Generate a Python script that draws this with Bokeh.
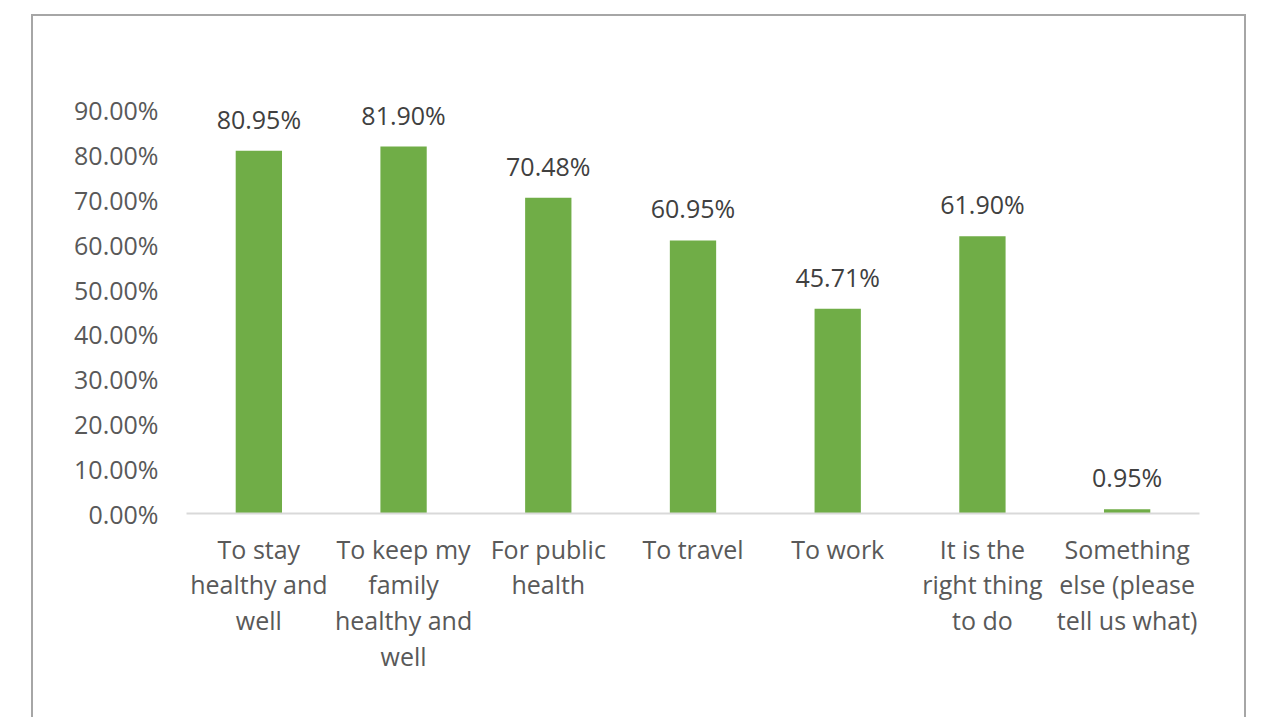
from bokeh.plotting import figure
from bokeh.models import ColumnDataSource, LabelSet, FixedTicker, NumeralTickFormatter, Range1d
from bokeh.core.properties import value
from bokeh.embed import file_html
from bokeh.resources import INLINE

categories = ["To stay\nhealthy and\nwell", "To keep my\nfamily\nhealthy and\nwell", "For public\nhealth",
              "To travel", "To work", "It is the\nright thing\nto do", "Something\nelse (please\ntell us what)"]
values = [0.8095, 0.8190, 0.7048, 0.6095, 0.4571, 0.6190, 0.0095]
labels = ["80.95%", "81.90%", "70.48%", "60.95%", "45.71%", "61.90%", "0.95%"]
y_ticks = [0.0, 0.1, 0.2, 0.3, 0.4, 0.5, 0.6, 0.7, 0.8, 0.9]

src = ColumnDataSource(dict(cat=categories, val=values, lab=labels))

FONT = "Open Sans"
FS = "25px"

p = figure(x_range=categories, y_range=Range1d(0, 1.0), width=1215, height=705,
           output_backend="svg", toolbar_location=None,
           min_border_left=153, min_border_right=49, min_border_top=49, min_border_bottom=208)
p.styles = {"border-left": "2px solid #a6a6a6", "border-right": "2px solid #a6a6a6",
            "border-top": "2px solid #a6a6a6", "margin-left": "31px", "margin-top": "14px"}

p.vbar(x="cat", top="val", width=0.32, source=src, color="#70AD47", line_color=None)

p.add_layout(LabelSet(x="cat", y="val", text="lab", source=src, y_offset=22,
                      text_align="center", text_baseline="alphabetic",
                      text_font=value(FONT), text_font_size=value(FS), text_color="#404040"))

p.outline_line_color = None
p.xgrid.grid_line_color = None
p.ygrid.grid_line_color = None

p.yaxis.ticker = FixedTicker(ticks=y_ticks)
p.yaxis.formatter = NumeralTickFormatter(format="0.00%")
p.yaxis.axis_line_color = None
p.yaxis.major_tick_line_color = None
p.yaxis.minor_tick_line_color = None
p.yaxis.major_label_text_font = FONT
p.yaxis.major_label_text_font_size = FS
p.yaxis.major_label_text_color = "#595959"
p.yaxis.major_label_standoff = 22

p.xaxis.axis_line_color = "#D9D9D9"
p.xaxis.axis_line_width = 2
p.xaxis.major_tick_line_color = None
p.xaxis.minor_tick_line_color = None
p.xaxis.major_label_text_font = FONT
p.xaxis.major_label_text_font_size = FS
p.xaxis.major_label_text_color = "#595959"
p.xaxis.major_label_text_line_height = 1.05
p.xaxis.major_label_standoff = 12
p.xaxis.major_label_orientation = "horizontal"

p.background_fill_color = "white"
p.border_fill_color = "white"

open("out.html", "w").write(file_html(p, INLINE))
